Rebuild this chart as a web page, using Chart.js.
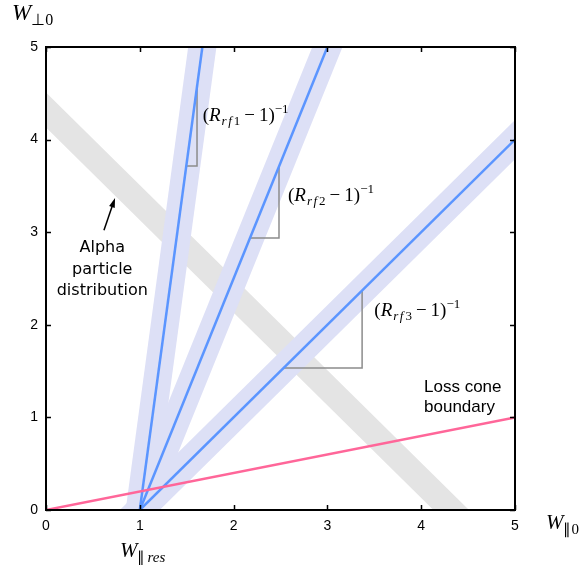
<!DOCTYPE html>
<html>
<head>
<meta charset="utf-8">
<script src="https://cdn.jsdelivr.net/npm/chart.js@4"></script>
<style>
  html, body { margin: 0; padding: 0; background: #fff; }
  canvas { display: block; }
</style>
</head>
<body>
<canvas id="chart" width="587" height="565"></canvas>
<script>
// Tick values on both axes
const xTicks = [0, 1, 2, 3, 4, 5];
const yTicks = [0, 1, 2, 3, 4, 5];

// Resonance lines, all starting from W_par = 1
const rfLine1 = [{ x: 1, y: 0 }, { x: 1.667, y: 5 }];
const rfLine2 = [{ x: 1, y: 0 }, { x: 3, y: 5 }];
const rfLine3 = [{ x: 1, y: 0 }, { x: 5, y: 4 }];

// Shaded bands round each line (run past the frame and get clipped)
const rfBand1 = [{ x: 0.933, y: -0.5 }, { x: 1.733, y: 5.5 }];
const rfBand2 = [{ x: 0.8, y: -0.5 }, { x: 3.2, y: 5.5 }];
const rfBand3 = [{ x: 0.5, y: -0.5 }, { x: 5.5, y: 4.5 }];

// Slope triangles on each line
const slope1 = [{ x: 1.495, y: 3.715 }, { x: 1.61, y: 3.715 }, { x: 1.61, y: 4.575 }];
const slope2 = [{ x: 2.175, y: 2.937 }, { x: 2.484, y: 2.937 }, { x: 2.484, y: 3.71 }];
const slope3 = [{ x: 2.533, y: 1.533 }, { x: 3.37, y: 1.533 }, { x: 3.37, y: 2.37 }];

// Loss cone boundary and alpha particle distribution
const lossCone = [{ x: 0, y: 0 }, { x: 5, y: 1 }];
const alphaBand = [{ x: -0.5, y: 4.82 }, { x: 4.82, y: -0.5 }];

const BLUE = '#5b95ff';
const LAVENDER = '#dde0f6';
const GREY_BAND = '#e4e4e4';
const PINK = '#ff6699';

function lineSet(data, color, width, order) {
    return {
        data: data,
        showLine: true,
        borderColor: color,
        borderWidth: width,
        borderCapStyle: 'butt',
        pointRadius: 0,
        fill: false,
        tension: 0,
        clip: 0,
        order: order
    };
}

// Draw a piece of math text: parts = [text, size, italic, dy, gapAfter]
function drawMath(ctx, x, y, parts) {
    ctx.textBaseline = 'alphabetic';
    ctx.textAlign = 'left';
    parts.forEach(p => {
        ctx.font = (p[2] ? 'italic ' : '') + p[1] + 'px "Liberation Serif", serif';
        ctx.fillText(p[0], x, y + (p[3] || 0));
        x += ctx.measureText(p[0]).width + (p[4] || 0);
    });
}

function rfLabel(ctx, x, y, n) {
    drawMath(ctx, x, y, [
        ['(', 19, false],
        ['R', 19, true, 0, 1],
        ['r', 13, true, 4, 1.5],
        ['f', 13, true, 4, 2],
        [n, 13, false, 4, 4],
        ['\u2212', 19, false, 0, 4],
        ['1)', 19, false],
        ['\u22121', 13, false, -8]
    ]);
}

// Frame with inward ticks on all four sides
const framePlugin = {
    id: 'frame',
    afterDatasetsDraw(chart) {
        const { ctx, chartArea: a, scales } = chart;
        ctx.save();
        ctx.strokeStyle = '#000';
        ctx.lineWidth = 1.5;
        xTicks.forEach(v => {
            const px = Math.round(scales.x.getPixelForValue(v)) + 0.5;
            ctx.beginPath();
            ctx.moveTo(px, a.bottom); ctx.lineTo(px, a.bottom - 5);
            ctx.moveTo(px, a.top); ctx.lineTo(px, a.top + 5);
            ctx.stroke();
        });
        yTicks.forEach(v => {
            const py = Math.round(scales.y.getPixelForValue(v)) + 0.5;
            ctx.beginPath();
            ctx.moveTo(a.left, py); ctx.lineTo(a.left + 5, py);
            ctx.moveTo(a.right, py); ctx.lineTo(a.right - 5, py);
            ctx.stroke();
        });
        ctx.lineWidth = 2;
        ctx.strokeRect(a.left, a.top, a.right - a.left, a.bottom - a.top);
        ctx.restore();
    }
};

// Annotations: slope labels, arrow, text blocks and axis titles
const labelPlugin = {
    id: 'labels',
    afterDraw(chart) {
        const { ctx, chartArea: a, scales } = chart;
        const px = v => scales.x.getPixelForValue(v);
        const py = v => scales.y.getPixelForValue(v);
        ctx.save();
        ctx.fillStyle = '#000';

        rfLabel(ctx, px(1.67), py(4.27) + 6, '1');
        rfLabel(ctx, px(2.58), py(3.40) + 6, '2');
        rfLabel(ctx, px(3.50), py(2.16) + 6, '3');

        // arrow pointing at the alpha band
        const x0 = px(0.618), y0 = py(3.02), x1 = px(0.736), y1 = py(3.37);
        const ang = Math.atan2(y1 - y0, x1 - x0);
        ctx.strokeStyle = '#000';
        ctx.lineWidth = 1.5;
        ctx.beginPath();
        ctx.moveTo(x0, y0);
        ctx.lineTo(x1 - 6 * Math.cos(ang), y1 - 6 * Math.sin(ang));
        ctx.stroke();
        ctx.beginPath();
        ctx.moveTo(x1, y1);
        ctx.lineTo(x1 - 10 * Math.cos(ang - 0.3), y1 - 10 * Math.sin(ang - 0.3));
        ctx.lineTo(x1 - 10 * Math.cos(ang + 0.3), y1 - 10 * Math.sin(ang + 0.3));
        ctx.closePath();
        ctx.fill();

        ctx.font = '16px "DejaVu Sans", sans-serif';
        ctx.textAlign = 'center';
        ctx.textBaseline = 'middle';
        ['Alpha', 'particle', 'distribution'].forEach((t, i) => {
            ctx.fillText(t, px(0.60), py(2.83) + i * 21.5);
        });

        ctx.font = '17px "Liberation Sans", sans-serif';
        ctx.textAlign = 'left';
        ctx.fillText('Loss cone', px(4.03), py(1.33));
        ctx.fillText('boundary', px(4.03), py(1.11));

        // axis titles
        drawMath(ctx, a.left - 34, a.top - 27, [['W', 23, true], ['\u22a50', 16, false, 5]]);
        drawMath(ctx, a.right + 31, a.bottom + 19, [['W', 21, true], ['\u22250', 15, false, 5]]);
        drawMath(ctx, a.left + 74, a.bottom + 47, [['W', 21, true], ['\u2225', 15, false, 5, 2], ['res', 15, true, 5]]);
        ctx.restore();
    }
};

new Chart(document.getElementById('chart'), {
    type: 'scatter',
    data: {
        datasets: [
            lineSet(lossCone, PINK, 2.5, 1),
            lineSet(rfLine1, BLUE, 2.5, 2),
            lineSet(rfLine2, BLUE, 2.5, 2),
            lineSet(rfLine3, BLUE, 2.5, 2),
            lineSet(slope1, '#8c8c8c', 1.5, 3),
            lineSet(slope2, '#8c8c8c', 1.5, 3),
            lineSet(slope3, '#8c8c8c', 1.5, 3),
            lineSet(rfBand1, LAVENDER, 28, 4),
            lineSet(rfBand2, LAVENDER, 28, 4),
            lineSet(rfBand3, LAVENDER, 28, 4),
            lineSet(alphaBand, GREY_BAND, 25, 5)
        ]
    },
    options: {
        responsive: false,
        animation: false,
        layout: { padding: { left: 10, top: 47, right: 72, bottom: 0 } },
        plugins: { legend: { display: false }, tooltip: { enabled: false } },
        scales: {
            x: {
                type: 'linear',
                min: 0,
                max: 5,
                afterBuildTicks: scale => { scale.ticks = xTicks.map(v => ({ value: v })); },
                afterFit: scale => { scale.height = 55; },
                grid: { display: false },
                border: { display: false },
                ticks: {
                    padding: 0,
                    color: '#000',
                    font: { family: 'Liberation Sans', size: 14 }
                }
            },
            y: {
                type: 'linear',
                min: 0,
                max: 5,
                afterBuildTicks: scale => { scale.ticks = yTicks.map(v => ({ value: v })); },
                afterFit: scale => { scale.width = 36; },
                grid: { display: false },
                border: { display: false },
                ticks: {
                    padding: 0,
                    color: '#000',
                    font: { family: 'Liberation Sans', size: 14 }
                }
            }
        }
    },
    plugins: [framePlugin, labelPlugin]
});
</script>
</body>
</html>
